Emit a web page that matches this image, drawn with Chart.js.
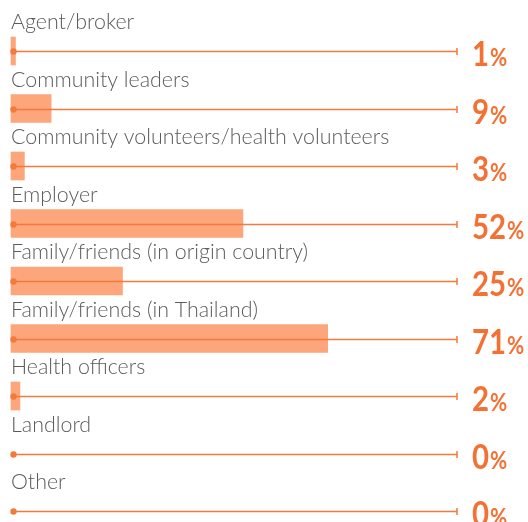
<!DOCTYPE html>
<html>
<head>
<meta charset="utf-8">
<script src="https://cdn.jsdelivr.net/npm/chart.js@4"></script>
<style>
  html, body { margin: 0; padding: 0; background: #fff; overflow: hidden; }
</style>
</head>
<body>
<canvas id="chart" width="528" height="522"></canvas>
<script>
const categories = [
  "Agent/broker",
  "Community leaders",
  "Community volunteers/health volunteers",
  "Employer",
  "Family/friends (in origin country)",
  "Family/friends (in Thailand)",
  "Health officers",
  "Landlord",
  "Other"
];
const shares = [1, 9, 3, 52, 25, 71, 2, 0, 0];
const axisMax = 100;

const barColor = "#fda57b";
const lineColor = "#f47a3c";
const numColor = "#f37133";
const labelColor = "#5a5b5d";

// track line, dots, category names and percent labels
const decor = {
  id: "decor",
  afterDatasetsDraw(chart) {
    const ctx = chart.ctx;
    const x = chart.scales.x;
    const y = chart.scales.y;
    const x0 = x.getPixelForValue(0);
    const x1 = x.getPixelForValue(axisMax);
    categories.forEach((name, i) => {
      const cy = Math.round(y.getPixelForValue(i)) + 0.5;
      ctx.save();
      ctx.strokeStyle = lineColor;
      ctx.lineWidth = 1.5;
      ctx.beginPath();
      ctx.moveTo(x0 + 2, cy);
      ctx.lineTo(x1, cy);
      ctx.moveTo(x1, cy - 3.5);
      ctx.lineTo(x1, cy + 3.5);
      ctx.stroke();
      ctx.fillStyle = lineColor;
      ctx.beginPath();
      ctx.arc(x0 + 2.5, cy, 3.2, 0, Math.PI * 2);
      ctx.fill();

      ctx.fillStyle = labelColor;
      ctx.font = "300 21.4px Lato";
      ctx.textAlign = "left";
      ctx.textBaseline = "alphabetic";
      ctx.fillText(name, x0, cy - 23);

      ctx.fillStyle = numColor;
      ctx.translate(x1 + 15, cy + 14.5);
      ctx.scale(0.84, 1);
      ctx.font = "bold 35px Lato";
      const num = String(shares[i]);
      ctx.fillText(num, 0, 0);
      const w = ctx.measureText(num).width;
      ctx.font = "bold 25px Lato";
      ctx.fillText("%", w + 1, 0);
      ctx.restore();
    });
  }
};

new Chart(document.getElementById("chart"), {
  type: "bar",
  data: {
    labels: categories,
    datasets: [{
      data: shares,
      backgroundColor: (c) => c.raw > 0 ? barColor : "rgba(0,0,0,0)",
      borderWidth: 0,
      barThickness: 28,
      clip: false
    }]
  },
  options: {
    indexAxis: "y",
    responsive: false,
    animation: false,
    layout: { padding: { top: 51, bottom: 11, left: 11, right: 71 } },
    scales: {
      x: { min: 0, max: axisMax, display: false },
      y: { display: false, offset: false, grid: { offset: false } }
    },
    plugins: { legend: { display: false }, tooltip: { enabled: false } }
  },
  plugins: [decor]
});
</script>
</body>
</html>
